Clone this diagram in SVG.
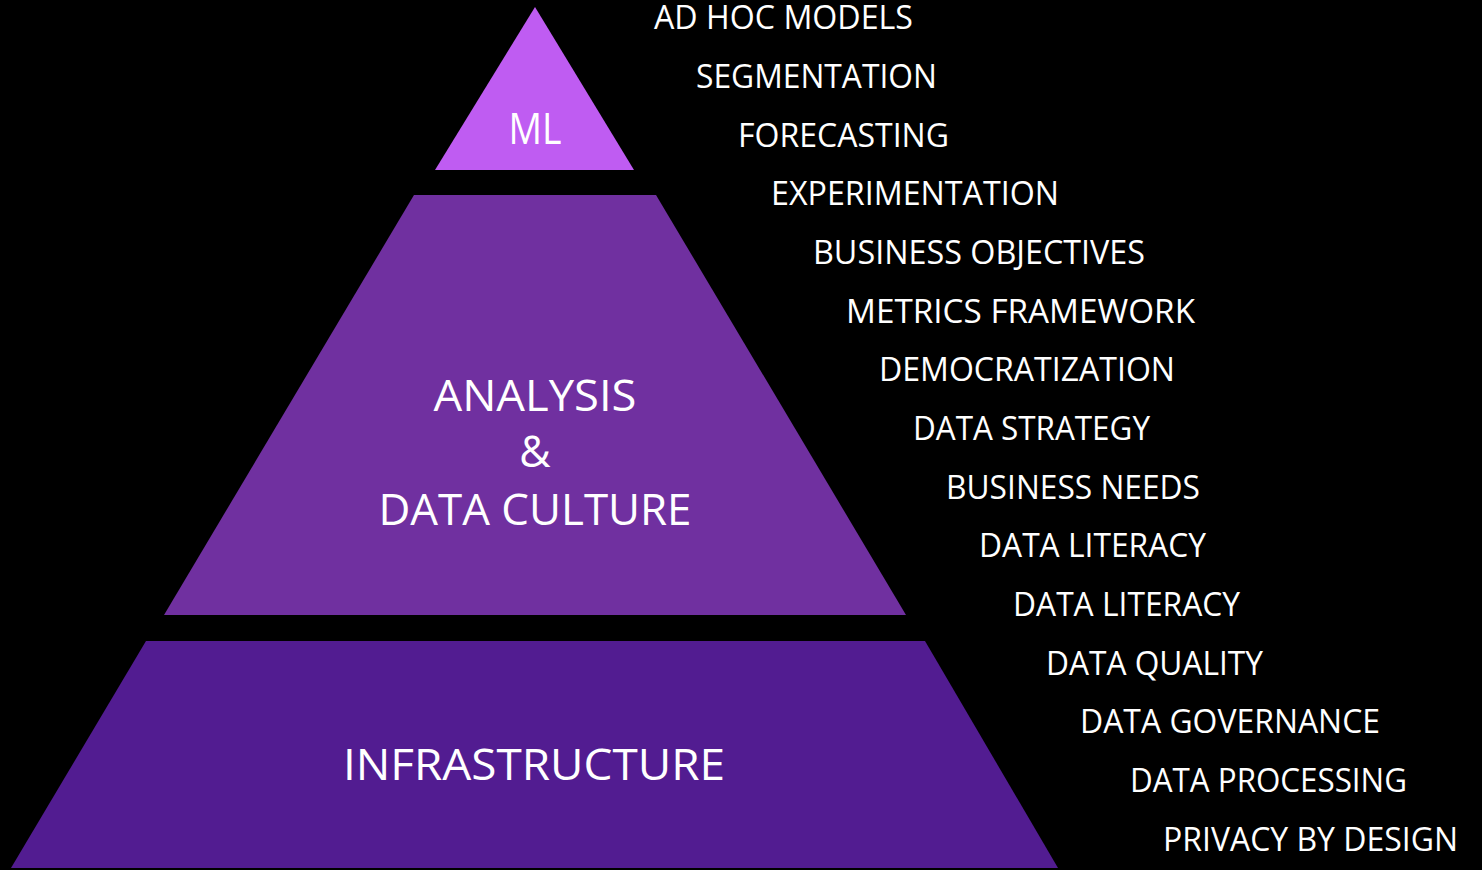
<svg xmlns="http://www.w3.org/2000/svg" width="1482" height="870" viewBox="0 0 1482 870">
<style>
text{font-family:"Open Sans","Noto Sans","Liberation Sans",sans-serif;fill:#ffffff;}
.item{font-size:32px;}
.tier{font-size:43px;text-anchor:middle;}
</style>
<rect x="0" y="0" width="1482" height="870" fill="#000000"/>
<g id="tier-ml">
<polygon points="535,7 634,170 435,170" fill="#BF5CF2"/>
<text class="tier" x="535" y="144" font-size="38" textLength="53" lengthAdjust="spacingAndGlyphs">ML</text>
</g>
<g id="tier-analysis">
<polygon points="414,195 656,195 906,615 164,615" fill="#7030A0"/>
<text class="tier" x="535" y="411" textLength="203" lengthAdjust="spacingAndGlyphs">ANALYSIS</text>
<text class="tier" x="535" y="467">&amp;</text>
<text class="tier" x="535" y="525" textLength="313" lengthAdjust="spacingAndGlyphs">DATA CULTURE</text>
</g>
<g id="tier-infrastructure">
<polygon points="146,641 925,641 1058,868 11,868" fill="#521C91"/>
<text class="tier" x="534" y="780" textLength="382" lengthAdjust="spacingAndGlyphs">INFRASTRUCTURE</text>
</g>
<g id="items">
<text class="item" x="654" y="29" textLength="259" lengthAdjust="spacingAndGlyphs">AD HOC MODELS</text>
<text class="item" x="696" y="88" textLength="241" lengthAdjust="spacingAndGlyphs">SEGMENTATION</text>
<text class="item" x="738" y="147" textLength="211" lengthAdjust="spacingAndGlyphs">FORECASTING</text>
<text class="item" x="771" y="205" textLength="288" lengthAdjust="spacingAndGlyphs">EXPERIMENTATION</text>
<text class="item" x="813" y="264" textLength="332" lengthAdjust="spacingAndGlyphs">BUSINESS OBJECTIVES</text>
<text class="item" x="846" y="323" textLength="349" lengthAdjust="spacingAndGlyphs">METRICS FRAMEWORK</text>
<text class="item" x="879" y="381" textLength="296" lengthAdjust="spacingAndGlyphs">DEMOCRATIZATION</text>
<text class="item" x="913" y="440" textLength="237" lengthAdjust="spacingAndGlyphs">DATA STRATEGY</text>
<text class="item" x="946" y="499" textLength="254" lengthAdjust="spacingAndGlyphs">BUSINESS NEEDS</text>
<text class="item" x="979" y="557" textLength="227" lengthAdjust="spacingAndGlyphs">DATA LITERACY</text>
<text class="item" x="1013" y="616" textLength="227" lengthAdjust="spacingAndGlyphs">DATA LITERACY</text>
<text class="item" x="1046" y="675" textLength="217" lengthAdjust="spacingAndGlyphs">DATA QUALITY</text>
<text class="item" x="1080" y="733" textLength="300" lengthAdjust="spacingAndGlyphs">DATA GOVERNANCE</text>
<text class="item" x="1130" y="792" textLength="277" lengthAdjust="spacingAndGlyphs">DATA PROCESSING</text>
<text class="item" x="1163" y="851" textLength="295" lengthAdjust="spacingAndGlyphs">PRIVACY BY DESIGN</text>
</g>
<g id="connectors"></g>
</svg>
